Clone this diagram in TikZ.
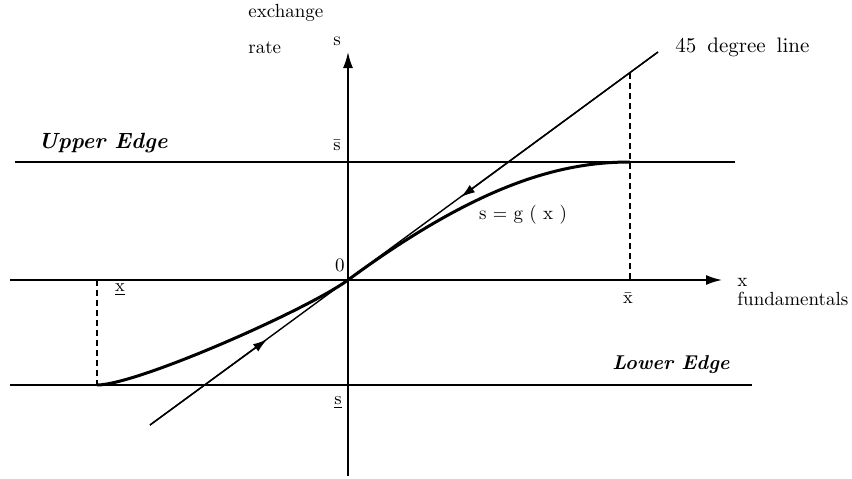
\documentclass[tikz,border=0pt]{standalone}
\usepackage{amsmath}
\usetikzlibrary{arrows.meta,positioning,calc}
\tikzset{
  ax/.style={-{Latex[length=8pt,width=5pt]},line width=0.9pt},
  edgeln/.style={line width=0.9pt},
  degln/.style={line width=0.7pt},
  flowtip/.style={degln,-{Latex[length=7pt,width=4.5pt]}},
  gcurve/.style={line width=1.5pt},
  helperln/.style={line width=0.6pt,dash pattern=on 3pt off 2pt},
  lab/.style={font=\fontsize{9.5}{11}\selectfont,inner sep=0pt},
  edgelab/.style={font=\fontsize{10}{12}\selectfont\bfseries\itshape,inner sep=0pt},
}

\begin{document}
\begin{tikzpicture}[x=0.5pt,y=0.5pt]
  \useasboundingbox (-348,-198) rectangle (504,280);
  % --- punktlar ---
  \coordinate (O) at (0,0);
  \coordinate (xl) at (-338,0);
  \coordinate (xr) at (374,0);
  \coordinate (yb) at (0,-196);
  \coordinate (yt) at (0,228);
  \coordinate (ue1) at (-333,118);
  \coordinate (ue2) at (387,118);
  \coordinate (le1) at (-338,-105);
  \coordinate (le2) at (404,-105);
  \coordinate (d1) at (-198,-145);
  \coordinate (d2) at (310,228);
  \coordinate (a1) at (-81,-59.5);
  \coordinate (a2) at (113,83);
  \coordinate (gl) at (-251,-105);
  \coordinate (gr) at (282,118);
  \coordinate (xbtop) at (282,207);
  \coordinate (xbbot) at (282,0);
  \coordinate (xutop) at (-251,0);
  % edges
  \draw[edgeln] (ue1) -- (ue2);
  \draw[edgeln] (le1) -- (le2);
  % axes
  \draw[ax] (xl) -- (xr);
  \draw[ax] (yb) -- (yt);
  % 45 degree line
  \draw[degln] (d1) -- (d2);
  \draw[flowtip] (d2) -- (a2);
  \draw[flowtip] (d1) -- (a1);
  % dashed helpers
  \draw[helperln] (xbtop) -- (xbbot);
  \draw[helperln] (xutop) -- (gl);
  % s = g(x)
  \draw[gcurve] (gl) .. controls (-211,-105) and (-40,-29.4) .. (O)
                     .. controls (130,95.5) and (212,118) .. (gr);
  % labels
  \node[lab,anchor=base west] (exch) at (-100,263) {exchange};
  \node[lab,anchor=base west] (rate) at (-100,227) {rate};
  \node[lab,anchor=base] (slab) at (-11,235) {s};
  \node[lab] (sbar) at (-11,135) {$\bar{\mathrm{s}}$};
  \node[lab] (zero) at (-8,15) {0};
  \node[lab] (xund) at (-228,-10) {$\underline{\mathrm{x}}$};
  \node[lab] (xbar) at (280,-18) {$\bar{\mathrm{x}}$};
  \node[lab,anchor=base west] (xlab) at (389,-6) {x};
  \node[lab,anchor=base west] (fund) at (389,-25) {fundamentals};
  \node[lab] (sund) at (-10,-123) {$\underline{\mathrm{s}}$};
  \node[edgelab,font=\fontsize{11}{13}\selectfont\bfseries\itshape] (upper) at (-245,137) {Upper Edge};
  \node[edgelab] (lower) at (323,-85) {Lower Edge};
  \node[lab] (glab) at (175,65) {s $=$ g ( x )};
  \node[lab,anchor=west,font=\fontsize{10.5}{12}\selectfont] (deglab) at (327,233) {45\hspace{2pt} degree\hspace{2pt} line};
\end{tikzpicture}
\end{document}
